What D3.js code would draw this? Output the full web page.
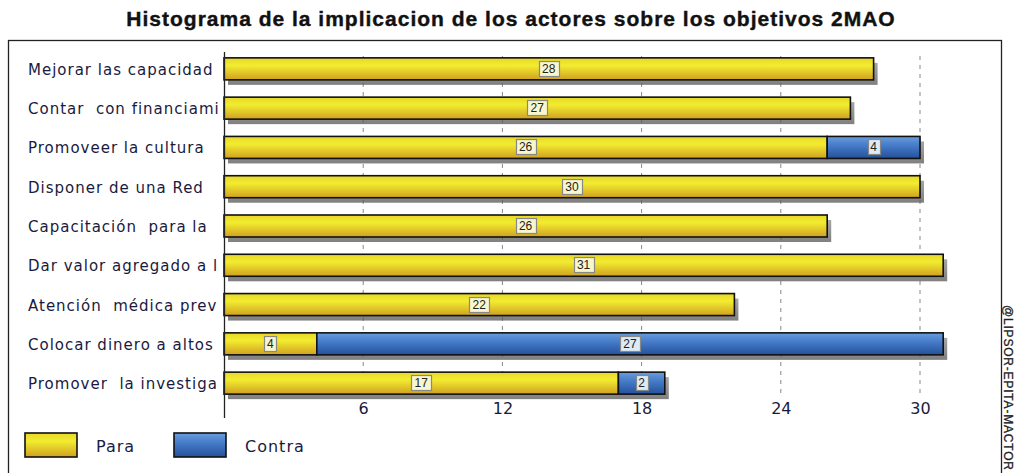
<!doctype html>
<html>
<head>
<meta charset="utf-8">
<title>Histograma</title>
<script src="https://cdn.jsdelivr.net/npm/d3@7"></script>
<style>
  body { margin: 0; background: #fff; }
  svg { display: block; }
</style>
</head>
<body>
<script>
// DATA
var categorias = ["Mejorar las capacidad", "Contar  con financiami", "Promoveer la cultura ", "Disponer de una Red",
                  "Capacitación  para la", "Dar valor agregado a l", "Atención  médica prev", "Colocar dinero a altos",
                  "Promover  la investiga"];
var para   = [28, 27, 26, 30, 26, 31, 22, 4, 17];
var contra = [0, 0, 4, 0, 0, 0, 0, 27, 2];
var ticks  = [6, 12, 18, 24, 30];
var series = ["Para", "Contra"];

var w = 1014, h = 473;
var x0 = 224, x1 = 920;

var svg = d3.select("body").append("svg").attr("width", w).attr("height", h);

// gradients
var defs = svg.append("defs");
function grad(id, stops) {
  var g = defs.append("linearGradient").attr("id", id).attr("x1", 0).attr("y1", 0).attr("x2", 0).attr("y2", 1);
  stops.forEach(function(s) { g.append("stop").attr("offset", s[0]).attr("stop-color", s[1]); });
}
grad("gPara", [[0, "#e8d828"], [0.35, "#f2ec30"], [1, "#d0a020"]]);
grad("gContra", [[0, "#6a9ee0"], [0.35, "#4a80cc"], [1, "#23509c"]]);
grad("gShadow", [[0, "#888"], [1, "#555"]]);

var fills = {Para: "url(#gPara)", Contra: "url(#gContra)"};
var boxFill = {Para: "#f8f6cc", Contra: "#dcecf6"};

// SCALES
var x = d3.scaleLinear().domain([0, 30]).range([x0, x1]);
var y = d3.scaleBand().domain(categorias).range([50, 402]).paddingInner(0.44).paddingOuter(0.2);

// title
svg.append("text")
  .attr("x", 511).attr("y", 26)
  .attr("text-anchor", "middle")
  .attr("font-family", "Liberation Sans, Arial, sans-serif")
  .attr("font-weight", "bold")
  .attr("font-size", "21px")
  .attr("letter-spacing", "1px")
  .attr("fill", "#111").attr("stroke", "#111").attr("stroke-width", 0.4)
  .text("Histograma de la implicacion de los actores sobre los objetivos 2MAO");

// frame
svg.append("rect")
  .attr("x", 8.5).attr("y", 40.5).attr("width", 993).attr("height", 450)
  .attr("fill", "none").attr("stroke", "#222").attr("stroke-width", 1.3);

// grid
svg.append("g").selectAll("line")
  .data(ticks).enter().append("line")
  .attr("x1", function(d) { return x(d); }).attr("x2", function(d) { return x(d); })
  .attr("y1", 56).attr("y2", 398)
  .attr("stroke", "#888").attr("stroke-dasharray", "4,5");

// stacked data
var stack = d3.stack().keys(series)(categorias.map(function(c, i) {
  return {cat: c, Para: para[i], Contra: contra[i]};
}));

// shadows
svg.append("g").selectAll("rect")
  .data(categorias).enter().append("rect")
  .attr("x", x(0) + 4)
  .attr("y", function(d) { return y(d) + 5; })
  .attr("width", function(d, i) { return x(para[i] + contra[i]) - x(0); })
  .attr("height", y.bandwidth())
  .attr("fill", "url(#gShadow)").attr("opacity", 0.75);

// bars
var layers = svg.append("g").selectAll("g")
  .data(stack).enter().append("g")
  .attr("fill", function(d) { return fills[d.key]; });

layers.selectAll("rect")
  .data(function(d) { return d.filter(function(p) { return p[1] - p[0] > 0; }); })
  .enter().append("rect")
  .attr("x", function(d) { return x(d[0]); })
  .attr("y", function(d) { return y(d.data.cat); })
  .attr("width", function(d) { return x(d[1]) - x(d[0]); })
  .attr("height", y.bandwidth())
  .attr("stroke", "#111").attr("stroke-width", 1.6);

// value boxes
stack.forEach(function(layer) {
  layer.forEach(function(p) {
    var v = p[1] - p[0];
    if (v <= 0) return;
    var cx = x((p[0] + p[1]) / 2), cy = y(p.data.cat) + y.bandwidth() / 2;
    var bw = String(v).length > 1 ? 20 : 12;
    svg.append("rect")
      .attr("x", Math.round(cx - bw / 2) + 0.5).attr("y", Math.round(cy - 8) + 0.5)
      .attr("width", bw).attr("height", 15)
      .attr("fill", boxFill[layer.key]).attr("stroke", "#888").attr("stroke-width", 1.2);
    svg.append("text")
      .attr("x", cx).attr("y", cy + 4)
      .attr("text-anchor", "middle")
      .attr("font-family", "Liberation Sans, Arial, sans-serif")
      .attr("font-size", "12px").attr("fill", "#222")
      .text(v);
  });
});

// left axis line
svg.append("line")
  .attr("x1", x0 + 0.5).attr("x2", x0 + 0.5).attr("y1", 52).attr("y2", 418)
  .attr("stroke", "#222").attr("stroke-width", 1.3);

// category labels
svg.append("g").selectAll("text")
  .data(categorias).enter().append("text")
  .attr("x", 28)
  .attr("y", function(d) { return y(d) + y.bandwidth() / 2 + 6; })
  .attr("font-family", "DejaVu Sans, sans-serif")
  .attr("font-size", "15px")
  .attr("letter-spacing", "1px")
  .attr("fill", "#1a1a40")
  .style("white-space", "pre")
  .text(function(d) { return d; });

// x axis tick labels
var xAxis = d3.axisBottom(x).tickValues(ticks).tickSize(0).tickPadding(0);
var ax = svg.append("g").attr("transform", "translate(0,401)").call(xAxis);
ax.select(".domain").remove();
ax.selectAll("text")
  .attr("dy", "0.8em")
  .attr("font-family", "DejaVu Sans, sans-serif")
  .attr("font-size", "16px")
  .attr("fill", "#1a1a40");

// legend
var leg = svg.append("g").selectAll("g")
  .data(series).enter().append("g")
  .attr("transform", function(d, i) { return "translate(" + (25 + i * 149) + ",433)"; });
leg.append("rect")
  .attr("width", 52).attr("height", 24)
  .attr("fill", function(d) { return fills[d]; })
  .attr("stroke", "#111").attr("stroke-width", 1.6);
leg.append("text")
  .attr("x", 71).attr("y", 19)
  .attr("font-family", "DejaVu Sans, sans-serif")
  .attr("font-size", "16px").attr("letter-spacing", "1px").attr("fill", "#1a1a40")
  .text(function(d) { return d; });

// watermark
svg.append("text")
  .attr("transform", "translate(1004,305) rotate(90)")
  .attr("font-family", "Liberation Sans, Arial, sans-serif")
  .attr("font-size", "12px").attr("letter-spacing", "0.8px")
  .attr("fill", "#222").attr("stroke", "#222").attr("stroke-width", 0.3)
  .text("@LIPSOR-EPITA-MACTOR");
</script>
</body>
</html>
